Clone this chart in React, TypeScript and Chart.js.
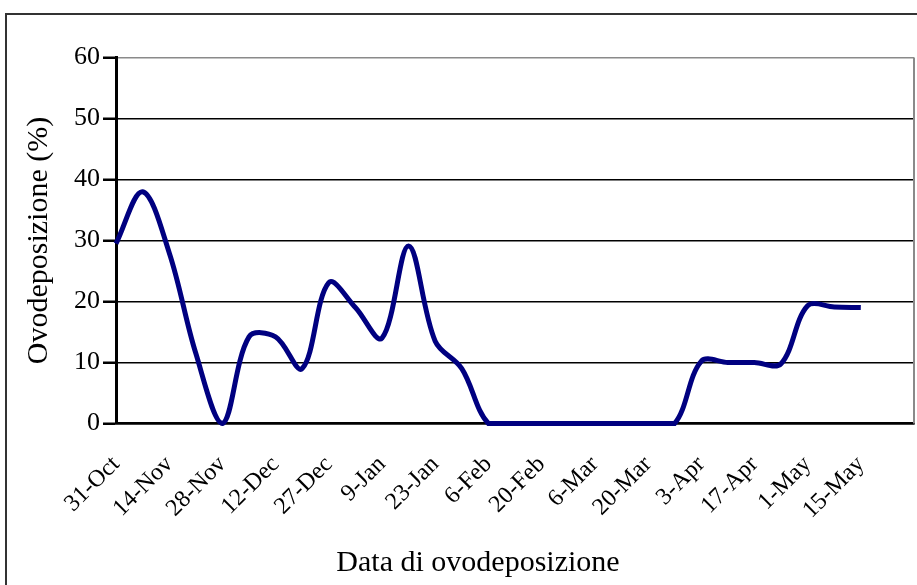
import React, { useEffect, useRef } from "react";
import { Chart, registerables } from "chart.js";

Chart.register(...registerables);

// Tick labels shown every two weekly samples
const tickLabels = [
  "31-Oct", "14-Nov", "28-Nov", "12-Dec", "27-Dec", "9-Jan", "23-Jan", "6-Feb",
  "20-Feb", "6-Mar", "20-Mar", "3-Apr", "17-Apr", "1-May", "15-May",
];

// Weekly egg-laying percentages (index = week from 31-Oct)
const ovodeposizione = [
  29.5, 38, 28, 11.5, 0, 14.2, 14.2, 9, 23.1, 19, 14, 29.1, 13.5, 9, 0,
  0, 0, 0, 0, 0, 0, 0, 10.2, 10, 10, 9.8, 19.3, 19.1, 19,
];

const yTicks = [0, 10, 20, 30, 40, 50, 60];

const xTitle = "Data di ovodeposizione";
const yTitle = "Ovodeposizione (%)";

const FONT = "'Liberation Serif', 'Times New Roman', serif";

export default function App() {
  const ref = useRef<HTMLCanvasElement | null>(null);

  useEffect(() => {
    if (!ref.current) return;
    const points = ovodeposizione.map((v, i) => ({ x: i, y: v }));

    const extras = {
      id: "extras",
      afterDraw(chart: any) {
        const { ctx, chartArea } = chart;
        ctx.save();
        ctx.strokeStyle = "#8a8a8a";
        ctx.lineWidth = 2;
        ctx.beginPath();
        ctx.moveTo(chartArea.right, chartArea.top);
        ctx.lineTo(chartArea.right, chartArea.bottom);
        ctx.stroke();
        ctx.fillStyle = "#000";
        ctx.font = `30px ${FONT}`;
        ctx.textAlign = "center";
        ctx.textBaseline = "middle";
        ctx.fillText(xTitle, 478, 563);
        ctx.restore();
      },
    };

    const chart = new Chart(ref.current, {
      type: "line",
      data: {
        datasets: [
          {
            data: points,
            borderColor: "#000080",
            borderWidth: 5,
            pointRadius: 0,
            tension: 0.35,
            fill: false,
            clip: 6,
          },
        ],
      },
      options: {
        responsive: false,
        animation: false,
        layout: { padding: { top: 57.5, right: 3, left: 0, bottom: 0 } },
        plugins: { legend: { display: false }, tooltip: { enabled: false } },
        scales: {
          x: {
            type: "linear",
            min: 0,
            max: 30,
            afterFit(scale: any) {
              scale.height = 161.5;
            },
            afterBuildTicks(scale: any) {
              scale.ticks = tickLabels.map((_, i) => ({ value: i * 2 }));
            },
            grid: { display: false, drawTicks: false },
            border: { display: true, color: "#000", width: 2.5 },
            ticks: {
              autoSkip: false,
              maxRotation: 45,
              minRotation: 45,
              padding: 27,
              labelOffset: 0,
              color: "#000",
              font: { family: FONT, size: 24 },
              callback: (v: any) => tickLabels[Math.round(Number(v) / 2)] ?? "",
            },
          },
          y: {
            min: 0,
            max: 60,
            afterFit(scale: any) {
              scale.width = 116;
            },
            afterBuildTicks(scale: any) {
              scale.ticks = yTicks.map((v) => ({ value: v }));
            },
            grid: {
              color: (c: any) => (c.tick && c.tick.value === 60 ? "#8a8a8a" : "#000"),
              lineWidth: 1.5,
              tickLength: 13,
              tickColor: "#000",
              tickWidth: 2.5,
            },
            border: { display: true, color: "#000", width: 3 },
            ticks: {
              padding: 3,
              color: "#000",
              font: { family: FONT, size: 26 },
            },
            title: {
              display: true,
              text: yTitle,
              color: "#000",
              font: { family: FONT, size: 30, weight: "normal" },
              padding: { top: 21, bottom: 0 },
            },
          },
        },
      },
      plugins: [extras],
    });
    return () => chart.destroy();
  }, []);

  return (
    <div style={{ position: "fixed", left: 0, top: 0, width: 917, height: 585, background: "#fff", overflow: "hidden" }}>
      <div
        style={{
          position: "absolute",
          left: 5,
          top: 13,
          width: 960,
          height: 640,
          border: "2px solid #333",
          boxSizing: "border-box",
        }}
      />
      <canvas ref={ref} width={917} height={585} style={{ position: "absolute", left: 0, top: 0 }} />
    </div>
  );
}
